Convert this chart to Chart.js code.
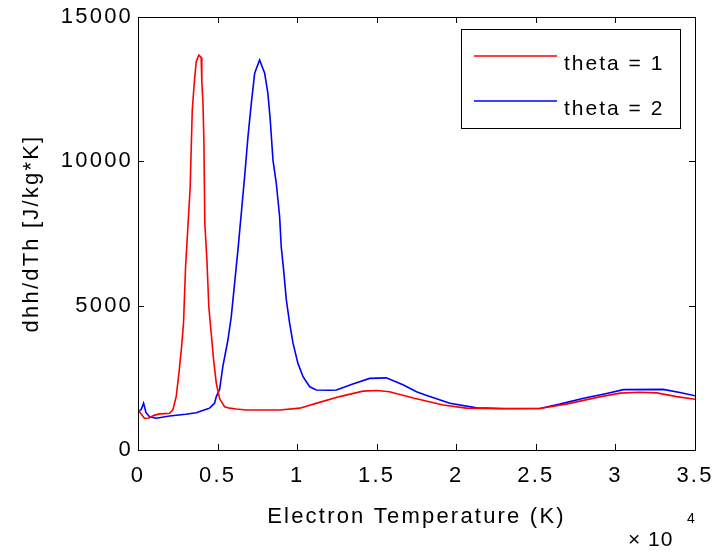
<!DOCTYPE html>
<html>
<head>
<meta charset="utf-8">
<script src="https://cdn.jsdelivr.net/npm/chart.js@4.4.1/dist/chart.umd.min.js"></script>
<style>
  html, body { margin: 0; padding: 0; background: #fff; }
  #wrap { width: 714px; height: 552px; }
</style>
</head>
<body>
<div id="wrap"><canvas id="dhhChart" width="714" height="552"></canvas></div>
<script>
// electron temperature in units of 1e4 K, dhh/dTh in J/(kg*K)
const tempTheta1 = [0, 0.02, 0.04, 0.07, 0.10, 0.135, 0.17, 0.198, 0.219, 0.24, 0.257, 0.274, 0.286, 0.299,
  0.313, 0.328, 0.341, 0.355, 0.366, 0.382, 0.397, 0.401, 0.408, 0.414, 0.420, 0.433, 0.445, 0.460, 0.475,
  0.492, 0.513, 0.533, 0.544, 0.575, 0.618, 0.68, 0.89, 1.016, 1.14, 1.267, 1.414, 1.5, 1.58, 1.73, 1.917,
  2.064, 2.27, 2.525, 2.69, 2.90, 3.03, 3.15, 3.26, 3.385, 3.5];
const dhhTheta1 = [1390, 1250, 1100, 1110, 1200, 1250, 1260, 1270, 1390, 1850, 2650, 3580, 4390, 6350,
  7680, 9120, 11780, 12820, 13450, 13680, 13600, 12760, 12070, 10740, 7850, 6580, 4960, 4040, 3120,
  2310, 1780, 1600, 1500, 1450, 1420, 1386, 1386, 1450, 1650, 1850, 2040, 2060, 2020, 1800, 1560,
  1450, 1430, 1440, 1590, 1840, 1970, 2000, 1980, 1850, 1760];

const tempTheta2 = [0, 0.02, 0.035, 0.05, 0.072, 0.114, 0.198, 0.30, 0.366, 0.429, 0.45, 0.481, 0.492, 0.513,
  0.533, 0.565, 0.586, 0.607, 0.628, 0.649, 0.670, 0.691, 0.712, 0.733, 0.764, 0.796, 0.816, 0.831, 0.848,
  0.869, 0.89, 0.90, 0.915, 0.932, 0.953, 0.974, 1.005, 1.037, 1.079, 1.12, 1.204, 1.247, 1.35, 1.456,
  1.56, 1.665, 1.75, 1.81, 1.96, 2.127, 2.3, 2.525, 2.65, 2.80, 2.945, 3.05, 3.30, 3.405, 3.5];
const dhhTheta2 = [1330, 1400, 1620, 1300, 1150, 1100, 1180, 1240, 1290, 1410, 1450, 1620, 1850, 2100,
  2890, 3810, 4620, 5770, 6930, 8200, 9470, 10850, 12010, 13050, 13510, 13050, 12360, 11430, 10050,
  9240, 8080, 7040, 6240, 5200, 4390, 3700, 3000, 2540, 2190, 2080, 2070, 2080, 2290, 2480,
  2500, 2260, 2020, 1900, 1620, 1460, 1440, 1440, 1590, 1790, 1960, 2090, 2100, 1990, 1880];

const xTicks = [0, 0.5, 1, 1.5, 2, 2.5, 3, 3.5];
const yTicks = [0, 5000, 10000, 15000];
const seriesNames = ['theta = 1', 'theta = 2'];

const FONT = "'Liberation Sans', Arial, Helvetica, sans-serif";
const SPACING = '2.2px';

function pairs(xs, ys) {
  return xs.map((x, i) => ({ x: x, y: ys[i] }));
}

// wide bitmap-like text spacing
const spacing = {
  id: 'spacing',
  beforeLayout(chart) { chart.ctx.letterSpacing = SPACING; },
  beforeDraw(chart) { chart.ctx.letterSpacing = SPACING; }
};

// box around the axes with ticks pointing inwards on all four sides
const frame = {
  id: 'frame',
  afterDatasetsDraw(chart) {
    const { ctx, chartArea: a, scales: { x, y } } = chart;
    ctx.save();
    ctx.strokeStyle = '#000';
    ctx.lineWidth = 1;
    ctx.strokeRect(Math.round(a.left) + 0.5, Math.round(a.top) + 0.5,
      Math.round(a.right - a.left), Math.round(a.bottom - a.top));
    ctx.beginPath();
    x.ticks.forEach(t => {
      const px = Math.round(x.getPixelForValue(t.value)) + 0.5;
      ctx.moveTo(px, a.bottom); ctx.lineTo(px, a.bottom - 6);
      ctx.moveTo(px, a.top); ctx.lineTo(px, a.top + 6);
    });
    y.ticks.forEach(t => {
      const py = Math.round(y.getPixelForValue(t.value)) + 0.5;
      ctx.moveTo(a.left, py); ctx.lineTo(a.left + 6, py);
      ctx.moveTo(a.right, py); ctx.lineTo(a.right - 6, py);
    });
    ctx.stroke();

    // exponent of the x axis
    ctx.fillStyle = '#000';
    ctx.textBaseline = 'alphabetic';
    ctx.textAlign = 'left';
    ctx.font = '21px ' + FONT;
    ctx.letterSpacing = '1px';
    ctx.fillText('\u00d7 10', 628, 546);
    ctx.font = '14px ' + FONT;
    ctx.fillText('4', 687, 523);
    ctx.restore();
  }
};

// legend box in the upper right corner
const cornerLegend = {
  id: 'cornerLegend',
  afterDraw(chart) {
    const ctx = chart.ctx;
    ctx.save();
    ctx.fillStyle = '#fff';
    ctx.fillRect(461, 29, 220, 100);
    ctx.strokeStyle = '#000';
    ctx.lineWidth = 1;
    ctx.strokeRect(461.5, 29.5, 219, 99);
    ctx.font = '21px ' + FONT;
    ctx.letterSpacing = '2px';
    ctx.textAlign = 'left';
    ctx.textBaseline = 'alphabetic';
    chart.data.datasets.forEach((ds, i) => {
      const ly = 56 + i * 45;
      ctx.strokeStyle = ds.borderColor;
      ctx.lineWidth = 1.5;
      ctx.beginPath();
      ctx.moveTo(474, ly);
      ctx.lineTo(557, ly);
      ctx.stroke();
      ctx.fillStyle = '#000';
      ctx.fillText(ds.label, 564, ly + 14);
    });
    ctx.restore();
  }
};

const canvas = document.getElementById('dhhChart');
const ctx = canvas.getContext('2d');
new Chart(ctx, {
  type: 'line',
  data: {
    datasets: [{
      label: seriesNames[0],
      data: pairs(tempTheta1, dhhTheta1),
      borderColor: '#ff0000',
      borderWidth: 1.6,
      pointRadius: 0,
      tension: 0,
      fill: false
    }, {
      label: seriesNames[1],
      data: pairs(tempTheta2, dhhTheta2),
      borderColor: '#0000ff',
      borderWidth: 1.6,
      pointRadius: 0,
      tension: 0,
      fill: false
    }]
  },
  options: {
    responsive: false,
    animation: false,
    devicePixelRatio: 1,
    layout: { padding: { top: 17, right: 19, left: 0, bottom: 0 } },
    plugins: {
      legend: { display: false },
      tooltip: { enabled: false }
    },
    scales: {
      x: {
        type: 'linear',
        min: 0,
        max: 3.5,
        afterFit: s => { s.height = 102; s.paddingLeft = 0; s.paddingRight = 0; },
        afterBuildTicks: s => { s.ticks = xTicks.map(v => ({ value: v })); },
        grid: { display: false, drawTicks: false },
        border: { display: false },
        ticks: {
          color: '#000',
          padding: 13,
          maxRotation: 0,
          font: { family: FONT, size: 22 },
          callback: v => String(v)
        },
        title: {
          display: true,
          text: 'Electron Temperature (K)',
          color: '#000',
          font: { family: FONT, size: 22 },
          padding: { top: 0, bottom: 22 }
        }
      },
      y: {
        min: 0,
        max: 15000,
        afterFit: s => { s.width = 138; s.paddingTop = 0; s.paddingBottom = 0; },
        afterBuildTicks: s => { s.ticks = yTicks.map(v => ({ value: v })); },
        grid: { display: false, drawTicks: false },
        border: { display: false },
        ticks: {
          color: '#000',
          padding: 5,
          font: { family: FONT, size: 22 },
          callback: v => String(v)
        },
        title: {
          display: true,
          text: 'dhh/dTh [J/kg*K]',
          color: '#000',
          font: { family: FONT, size: 22 },
          padding: { top: 19, bottom: 0 }
        }
      }
    }
  },
  plugins: [spacing, frame, cornerLegend]
});
</script>
</body>
</html>
